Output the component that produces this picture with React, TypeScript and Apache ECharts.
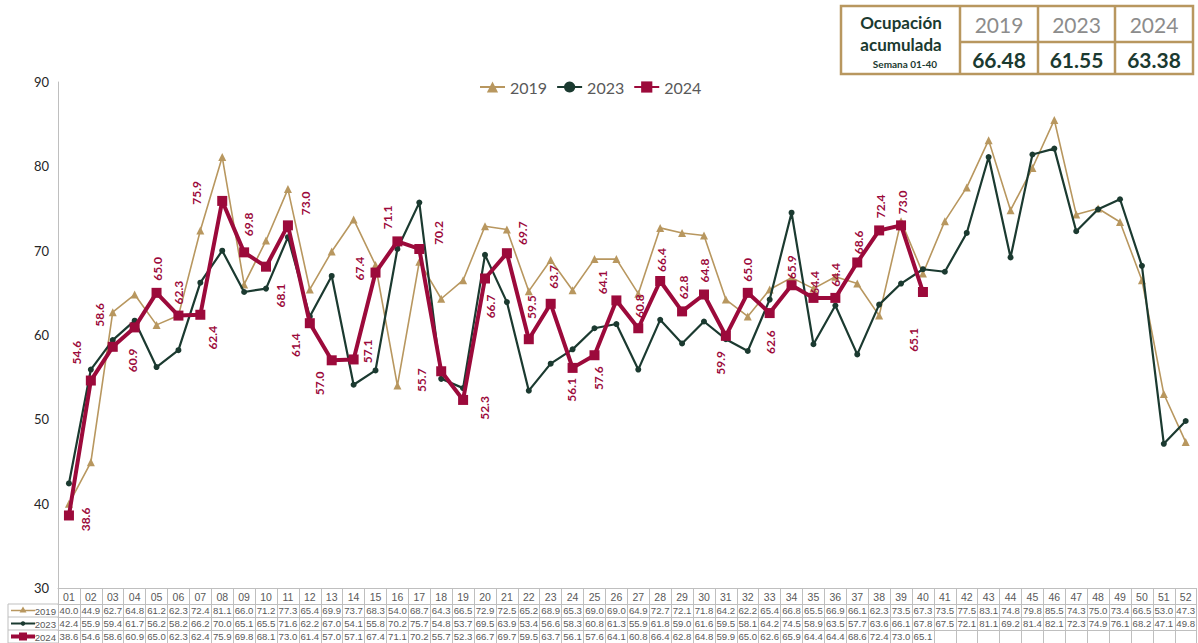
import React, { useEffect, useRef } from 'react';
import * as echarts from 'echarts';

const weeks = ['01','02','03','04','05','06','07','08','09','10','11','12','13','14','15','16','17','18','19','20','21','22','23','24','25','26','27','28','29','30','31','32','33','34','35','36','37','38','39','40','41','42','43','44','45','46','47','48','49','50','51','52'];

const values2019 = [40.0,44.9,62.7,64.8,61.2,62.3,72.4,81.1,66.0,71.2,77.3,65.4,69.9,73.7,68.3,54.0,68.7,64.3,66.5,72.9,72.5,65.2,68.9,65.3,69.0,69.0,64.9,72.7,72.1,71.8,64.2,62.2,65.4,66.8,65.5,66.9,66.1,62.3,73.5,67.3,73.5,77.5,83.1,74.8,79.8,85.5,74.3,75.0,73.4,66.5,53.0,47.3];
const values2023 = [42.4,55.9,59.4,61.7,56.2,58.2,66.2,70.0,65.1,65.5,71.6,62.2,67.0,54.1,55.8,70.2,75.7,54.8,53.7,69.5,63.9,53.4,56.6,58.3,60.8,61.3,55.9,61.8,59.0,61.6,59.5,58.1,64.2,74.5,58.9,63.5,57.7,63.6,66.1,67.8,67.5,72.1,81.1,69.2,81.4,82.1,72.3,74.9,76.1,68.2,47.1,49.8];
const values2024 = [38.6,54.6,58.6,60.9,65.0,62.3,62.4,75.9,69.8,68.1,73.0,61.4,57.0,57.1,67.4,71.1,70.2,55.7,52.3,66.7,69.7,59.5,63.7,56.1,57.6,64.1,60.8,66.4,62.8,64.8,59.9,65.0,62.6,65.9,64.4,64.4,68.6,72.4,73.0,65.1,null,null,null,null,null,null,null,null,null,null,null,null];

const seriesNames = ['2019', '2023', '2024'];
const summaryLabel = ['Ocupación', 'acumulada', 'Semana 01-40'];
const summaryYears = ['2019', '2023', '2024'];
const summaryValues = ['66.48', '61.55', '63.38'];

const yTicks = { min: 30, max: 90, interval: 10 };

// label placement (dx, dy) relative to each 2024 point — styling only
const labelOffsets2024: number[][] = [
  [17, 4], [-14, -28], [-13, -32], [-2, 33], [1, -24], [0, -23], [12, 23], [-26, -8], [4, -28], [14, 29],
  [18, -22], [-14, 22], [-12, 23], [14, -8], [-16, -4], [-10, -24], [19, -16], [-20, 9], [21, 8], [6, 28],
  [16, -20], [3, -32], [3, -27], [-1, 22], [4, 23], [-14, -18], [1, -22], [1, -21], [1, -24], [1, -24],
  [-5, 27], [0, -23], [1, 29], [0, -18], [1, -15], [0, -23], [1, -20], [1, -24], [1, -23], [-9, 48],
];

const C19 = '#B8975F';
const C23 = '#1B3A30';
const C24 = '#9C0A3B';
const GRID = '#BFBFBF';
const TXT = '#595959';
const NARROW = '"Liberation Sans", Arial, sans-serif';
const SANS = 'Lato, "Open Sans", sans-serif';

const GL = 58, GT = 82, GW = 1144, GH = 506;

function rowAxis(rows: (number | null)[], offset: number) {
  return {
    type: 'category', gridIndex: 0, position: 'bottom', offset, data: weeks,
    axisLine: { show: true, onZero: false, lineStyle: { color: GRID, width: 1 } },
    axisTick: { show: false },
    splitLine: { show: false },
    axisLabel: {
      interval: 0, margin: 1.5, fontSize: 9.6, color: TXT, fontFamily: NARROW,
      formatter: (_v: string, i: number) => (rows[i] == null ? '' : (rows[i] as number).toFixed(1)),
    },
  };
}

function buildGraphics() {
  const els: any[] = [];
  // summary box
  const bx = 841, by = 6, bw = 352, bh = 68;
  const cols = [960, 1038, 1115, 1193];
  els.push({ type: 'rect', shape: { x: bx, y: by, width: bw, height: bh }, style: { fill: '#fff', stroke: C19, lineWidth: 2.5 } });
  [960, 1038, 1115].forEach((x) => els.push({ type: 'line', shape: { x1: x, y1: by, x2: x, y2: by + bh }, style: { stroke: C19, lineWidth: 2.5 } }));
  els.push({ type: 'line', shape: { x1: 960, y1: 42, x2: bx + bw, y2: 42 }, style: { stroke: C19, lineWidth: 2.5 } });
  els.push({ type: 'text', x: 901, y: 22, style: { text: summaryLabel[0], fontSize: 17, fontWeight: 'bold', fill: C23, fontFamily: SANS, align: 'center', verticalAlign: 'middle' } });
  els.push({ type: 'text', x: 901, y: 44, style: { text: summaryLabel[1], fontSize: 17, fontWeight: 'bold', fill: C23, fontFamily: SANS, align: 'center', verticalAlign: 'middle' } });
  els.push({ type: 'text', x: 905, y: 64, style: { text: summaryLabel[2], fontSize: 10, fontWeight: 'bold', fill: C23, fontFamily: SANS, align: 'center', verticalAlign: 'middle' } });
  summaryYears.forEach((yr, i) => {
    const cx = (cols[i] + cols[i + 1]) / 2;
    els.push({ type: 'text', x: cx, y: 24, style: { text: yr, fontSize: 21, fill: '#8C8C8C', fontFamily: SANS, align: 'center', verticalAlign: 'middle' } });
    els.push({ type: 'text', x: cx, y: 59, style: { text: summaryValues[i], fontSize: 21, fontWeight: 'bold', fill: C23, fontFamily: SANS, align: 'center', verticalAlign: 'middle' } });
  });
  // table legend column
  const tl = 8, tr = GL;
  const rowsY = [604, 617, 630, 643];
  els.push({ type: 'line', shape: { x1: tl, y1: 604, x2: tr, y2: 604 }, style: { stroke: GRID, lineWidth: 1 } });
  els.push({ type: 'line', shape: { x1: tl, y1: 604, x2: tl, y2: 643 }, style: { stroke: GRID, lineWidth: 1 } });
  [617, 630, 643].forEach((y) => els.push({ type: 'line', shape: { x1: tl, y1: y, x2: tr, y2: y }, style: { stroke: GRID, lineWidth: 1 } }));
  const colors = [C19, C23, C24];
  const widths = [1.5, 2, 4];
  seriesNames.forEach((nm, i) => {
    const cy = (rowsY[i] + rowsY[i + 1]) / 2;
    els.push({ type: 'line', shape: { x1: 11, y1: cy, x2: 35, y2: cy }, style: { stroke: colors[i], lineWidth: widths[i] } });
    if (i === 0) els.push({ type: 'polygon', shape: { points: [[23, cy - 4], [19.5, cy + 2], [26.5, cy + 2]] }, style: { fill: C19 } });
    if (i === 1) els.push({ type: 'circle', shape: { cx: 23, cy, r: 2.2 }, style: { fill: C23 } });
    if (i === 2) els.push({ type: 'rect', shape: { x: 19, y: cy - 4, width: 8, height: 8 }, style: { fill: C24 } });
    els.push({ type: 'text', x: 56, y: cy + 0.5, style: { text: nm, fontSize: 9.6, fill: TXT, fontFamily: NARROW, align: 'right', verticalAlign: 'middle' } });
  });
  return els;
}

export default function App() {
  const ref = useRef<HTMLDivElement>(null);
  useEffect(() => {
    if (!ref.current) return;
    const chart = echarts.init(ref.current, undefined, { renderer: 'svg' });
    const option: any = {
      animation: false,
      backgroundColor: '#fff',
      grid: { left: GL, top: GT, width: GW, height: GH },
      legend: {
        data: seriesNames, left: 474, top: 74, itemWidth: 25, itemHeight: 14, itemGap: 9,
        textStyle: { fontSize: 16, color: TXT, fontFamily: SANS },
      },
      xAxis: [
        {
          type: 'category', gridIndex: 0, position: 'bottom', offset: 0, data: weeks,
          axisLine: { show: true, onZero: false, lineStyle: { color: GRID, width: 1 } },
          axisTick: { show: true, interval: 0, length: 55, lineStyle: { color: GRID, width: 1 } },
          splitLine: { show: false },
          axisLabel: { interval: 0, margin: 3, fontSize: 10.5, color: TXT, fontFamily: NARROW },
        },
        rowAxis(values2019, 16),
        rowAxis(values2023, 29),
        rowAxis(values2024, 42),
      ],
      yAxis: {
        type: 'value', min: yTicks.min, max: yTicks.max, interval: yTicks.interval,
        axisLine: { show: true, lineStyle: { color: GRID, width: 1 } },
        axisTick: { show: false },
        splitLine: { show: false },
        axisLabel: { margin: 9, fontSize: 13, color: '#262626', fontFamily: SANS },
      },
      series: [
        {
          name: seriesNames[0], type: 'line', data: values2019, xAxisIndex: 0,
          symbol: 'triangle', symbolSize: 8, showAllSymbol: true, z: 2,
          itemStyle: { color: C19 }, lineStyle: { color: C19, width: 1.6 },
        },
        {
          name: seriesNames[1], type: 'line', data: values2023, xAxisIndex: 0,
          symbol: 'circle', symbolSize: 6, showAllSymbol: true, z: 3,
          itemStyle: { color: C23 }, lineStyle: { color: C23, width: 2.2 },
        },
        {
          name: seriesNames[2], type: 'line', data: values2024, xAxisIndex: 0,
          symbol: 'rect', symbolSize: 10, showAllSymbol: true, z: 4, connectNulls: false,
          itemStyle: { color: C24 }, lineStyle: { color: C24, width: 4 },
          label: {
            show: true, fontSize: 12, fontWeight: 'bold', color: C24, fontFamily: SANS,
            formatter: (p: any) => (p.value == null ? '' : Number(p.value).toFixed(1)),
          },
          labelLayout: (p: any) => {
            const off = labelOffsets2024[p.dataIndex] || [0, -22];
            return {
              x: p.rect.x + p.rect.width / 2 + off[0],
              y: p.rect.y + p.rect.height / 2 + off[1],
              rotate: 90, align: 'center', verticalAlign: 'middle',
            };
          },
        },
      ],
      graphic: buildGraphics(),
    };
    chart.setOption(option);
    return () => chart.dispose();
  }, []);
  return <div ref={ref} style={{ position: 'absolute', left: 0, top: 0, width: 1198, height: 643 }} />;
}
